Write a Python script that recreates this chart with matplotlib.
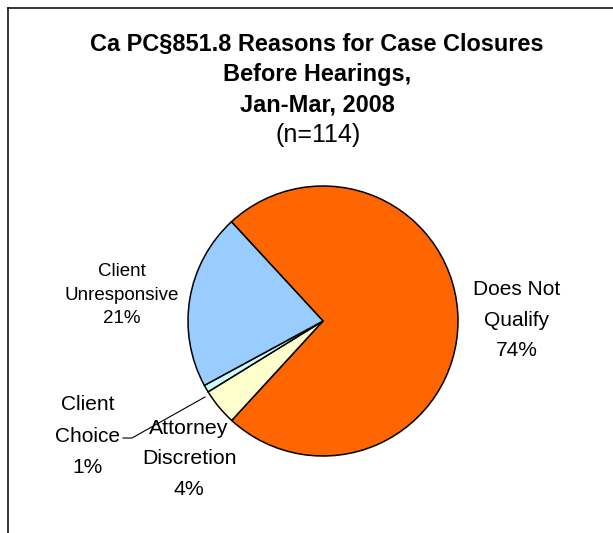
import matplotlib
matplotlib.use("Agg")
import matplotlib.pyplot as plt
from matplotlib.lines import Line2D

categories = ["Does Not Qualify", "Attorney Discretion", "Client Choice", "Client Unresponsive"]
counts = [84, 5, 1, 24]
colors = ["#FF6600", "#FFFFCC", "#CCFFFF", "#99CCFF"]
label_text = ["Does Not\nQualify\n74%", "Attorney\nDiscretion\n4%", "Client\nChoice\n1%", "Client\nUnresponsive\n21%"]

W, H = 613, 533
plt.rcParams["font.family"] = ["Liberation Sans", "DejaVu Sans"]
fig = plt.figure(figsize=(W / 100, H / 100), dpi=100)
fig.patch.set_facecolor("white")

# axes in pixel units (y measured upward)
ax = fig.add_axes([0, 0, 1, 1])
cx, cy, r = 323, H - 321, 135
ax.pie(counts, colors=colors, startangle=132.7, counterclock=False,
       center=(cx, cy), radius=r, frame=True,
       wedgeprops=dict(edgecolor="black", linewidth=1.1))
ax.set_xlim(0, W)
ax.set_ylim(0, H)
ax.set_aspect("equal")
ax.axis("off")

# outer border: top and left edges
fig.add_artist(Line2D([8 / W, 8 / W], [0, 1 - 8 / H], transform=fig.transFigure, color="black", lw=1.1))
fig.add_artist(Line2D([8 / W, 1], [1 - 8 / H, 1 - 8 / H], transform=fig.transFigure, color="black", lw=1.1))

# title
title_lines = ["Ca PC§851.8 Reasons for Case Closures", "Before Hearings,", "Jan-Mar, 2008"]
for i, t in enumerate(title_lines):
    ax.text(317, H - (45 + 30 * i), t, ha="center", va="center", fontsize=16.9, fontweight="bold")
ax.text(318, H - 135, "(n=114)", ha="center", va="center", fontsize=18)

# slice labels: (x, y, linespacing, fontsize)
label_pos = [(517, 320, 1.78, 15), (189, 459, 1.75, 15.3), (88, 436, 1.83, 15), (122, 295, 1.5, 13.5)]
for txt, (x, y, ls, fs) in zip(label_text, label_pos):
    ax.text(x, H - y, txt, ha="center", va="center", fontsize=fs, linespacing=ls)

# leader line for the smallest slice
ax.plot([123, 132, 205], [H - 438, H - 438, H - 397], color="black", lw=0.8)

fig.savefig("out.png", dpi=100, facecolor="white")
